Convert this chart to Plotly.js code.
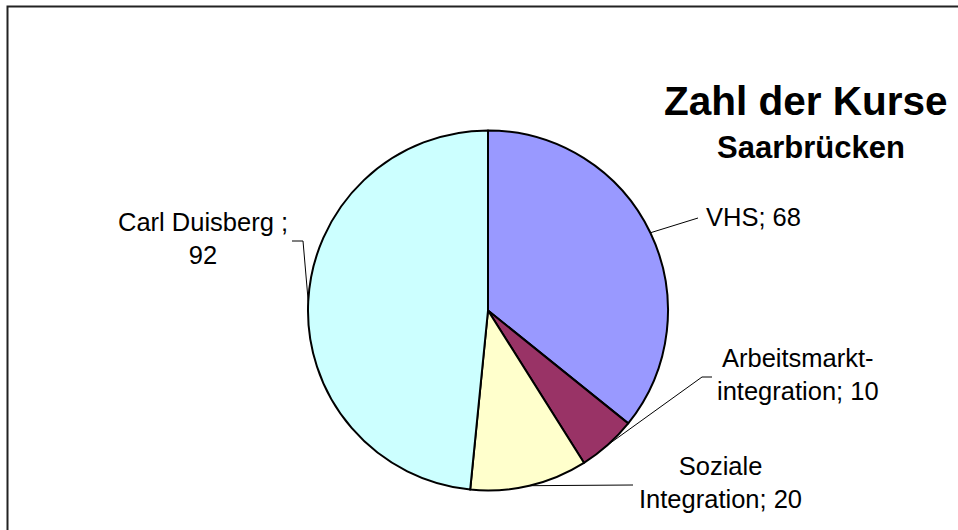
<!DOCTYPE html>
<html>
<head>
<meta charset="utf-8">
<script src="https://cdn.plot.ly/plotly-3.0.1.min.js"></script>
<style>
html,body{margin:0;padding:0;background:#fff;}
#chart{width:958px;height:530px;}
</style>
</head>
<body>
<div id="chart"></div>
<script>
// Data
const categories = ["VHS", "Arbeitsmarktintegration", "Soziale Integration", "Carl Duisberg"];
const labelTexts = ["VHS; 68", "Arbeitsmarkt-<br>integration; 10", "Soziale<br>Integration; 20", "Carl Duisberg ;<br>92"];
const values = [68, 10, 20, 92];
const colors = ["#9999FF", "#993366", "#FFFFCC", "#CCFFFF"];

const W = 958, H = 530;
// pie geometry (pixels)
const cx = 488, cy = 310.5, R = 180;
const px = x => x / W;
const py = y => 1 - y / H;

// label anchor positions (pixels) and leader line waypoints
const labelPos = [
  {x: 704, y: 217, xanchor: "left", align: "left"},
  {x: 798, y: 374, xanchor: "center", align: "center"},
  {x: 720, y: 482, xanchor: "center", align: "center"},
  {x: 203, y: 238, xanchor: "center", align: "center"}
];
const leaderEnds = [
  [[698, 218]],
  [[702, 377], [712, 377]],
  [[633, 485]],
  [[303, 241], [292, 241]]
];

const total = values.reduce((a, b) => a + b, 0);
let acc = 0;
const shapes = [];
const annotations = [];
values.forEach((v, i) => {
  const mid = (acc + v / 2) / total * 2 * Math.PI;
  acc += v;
  const sx = cx + R * Math.sin(mid);
  const sy = cy - R * Math.cos(mid);
  let d = "M" + px(sx) + "," + py(sy);
  leaderEnds[i].forEach(p => { d += " L" + px(p[0]) + "," + py(p[1]); });
  shapes.push({type: "path", xref: "paper", yref: "paper", path: d,
    line: {color: "#000", width: 1}});
  const lp = labelPos[i];
  annotations.push({
    text: labelTexts[i], xref: "paper", yref: "paper",
    x: px(lp.x), y: py(lp.y), xanchor: lp.xanchor, yanchor: "middle",
    align: lp.align, showarrow: false,
    font: {family: "Liberation Sans, Arial, sans-serif", size: 25.5, color: "#000"}
  });
});

annotations.push({
  text: "<b>Zahl der Kurse</b>", xref: "paper", yref: "paper",
  x: px(806), y: py(101), xanchor: "center", yanchor: "middle", showarrow: false,
  font: {family: "Liberation Sans, Arial, sans-serif", size: 40.5, color: "#000"}
});
annotations.push({
  text: "<b>Saarbrücken</b>", xref: "paper", yref: "paper",
  x: px(811), y: py(148), xanchor: "center", yanchor: "middle", showarrow: false,
  font: {family: "Liberation Sans, Arial, sans-serif", size: 31, color: "#000"}
});

// border (top and left visible)
shapes.push({type: "rect", xref: "paper", yref: "paper",
  x0: px(7.5), y0: py(560), x1: px(990), y1: py(6.5),
  line: {color: "#222", width: 2}, layer: "above"});

const trace = {
  type: "pie",
  labels: categories,
  values: values,
  sort: false,
  direction: "clockwise",
  rotation: 0,
  textinfo: "none",
  hoverinfo: "label+value",
  marker: {colors: colors, line: {color: "#000", width: 2}},
  domain: {x: [px(cx - R), px(cx + R)], y: [py(cy + R), py(cy - R)]},
  showlegend: false
};

Plotly.newPlot("chart", [trace], {
  width: W, height: H,
  margin: {l: 0, r: 0, t: 0, b: 0},
  paper_bgcolor: "#fff",
  showlegend: false,
  shapes: shapes,
  annotations: annotations
}, {displayModeBar: false, staticPlot: true});
</script>
</body>
</html>
